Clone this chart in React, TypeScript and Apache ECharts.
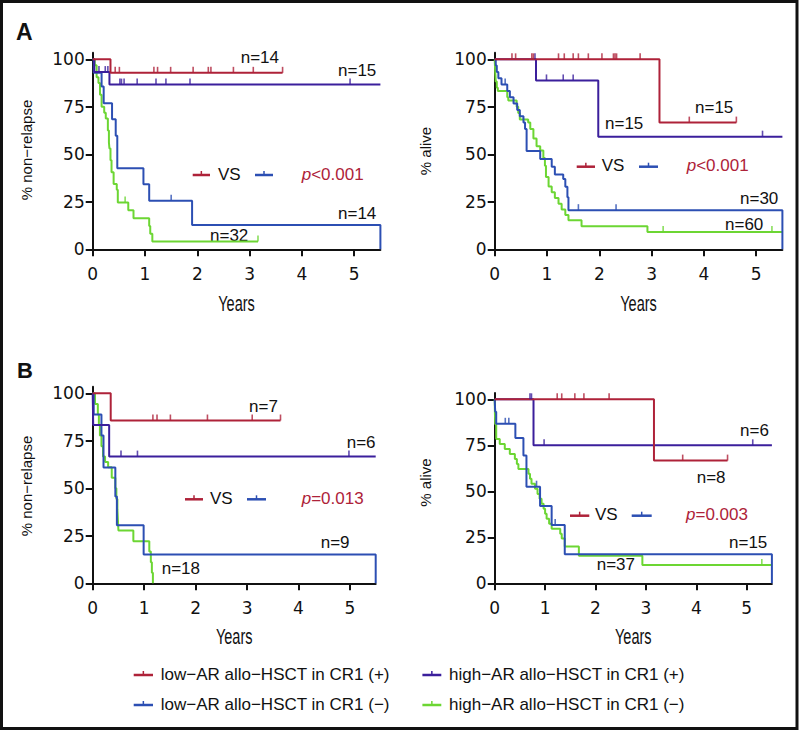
import React, { useEffect, useRef } from "react";
import * as echarts from "echarts";

// ---------- shared axis ticks ----------
const xTicks = [0, 1, 2, 3, 4, 5];
const yTicks = [0, 25, 50, 75, 100];

// ---------- colours ----------
const RED = "#AE2239";
const PURPLE = "#3B1F9C";
const BLUE = "#2C4FB3";
const GREEN = "#6CD633";

// ---------- Panel A, non-relapse ----------
const aNrLowPos = [[0, 100], [0.34, 92.9], [3.63, 92.9]];
const aNrLowPosCens = [0.43, 0.51, 1.17, 1.24, 1.49, 1.92, 2.21, 2.26, 2.69, 3.07, 3.63];
const aNrHighPos = [[0, 100], [0.03, 93.3], [0.32, 86.7], [5.5, 86.7]];
const aNrHighPosCens = [0.12, 0.24, 0.29, 0.52, 0.55, 0.6, 0.85, 1.21, 1.4, 1.86, 4.92];
const aNrLowNeg = [[0, 100], [0.02, 92.9], [0.17, 85.7], [0.21, 76.9], [0.37, 68.4], [0.44, 59.8], [0.47, 42.7], [0.97, 34.2], [1.08, 25.6], [1.9, 12.8], [5.5, 12.8], [5.5, 0]];
const aNrLowNegCens = [1.5];
const aNrHighNeg = [[0, 100], [0.04, 96.9], [0.075, 90.6], [0.11, 87.5], [0.14, 81.3], [0.17, 75], [0.22, 71.9], [0.25, 68.8], [0.29, 62.5], [0.31, 56.3], [0.32, 53.1], [0.34, 46.9], [0.36, 40.6], [0.4, 34.4], [0.46, 31.3], [0.48, 24.6], [0.68, 20.5], [0.78, 16.4], [1.08, 12.3], [1.1, 8.2], [1.14, 4.1], [3.16, 4.1]];
const aNrHighNegCens = [0.62, 3.16];

// ---------- Panel A, alive ----------
const aOsLowPos = [[0, 100], [3.15, 66.7], [4.62, 66.7]];
const aOsLowPosCens = [0.33, 0.4, 0.71, 0.74, 1.22, 1.33, 1.5, 1.6, 1.79, 2.05, 2.27, 2.3, 2.33, 2.78, 3.72, 4.62];
const aOsHighPos = [[0, 100], [0.79, 88.9], [1.98, 59.3], [5.5, 59.3]];
const aOsHighPosCens = [0.77, 0.99, 1.31, 1.5, 5.12];
const aOsLowNeg = [[0, 100], [0.02, 96.7], [0.04, 93.3], [0.07, 90], [0.13, 86.7], [0.24, 83.3], [0.29, 80], [0.36, 76.7], [0.43, 73.3], [0.48, 70], [0.55, 66.7], [0.58, 63.3], [0.61, 51.7], [0.87, 47.6], [1.09, 43.5], [1.15, 39.4], [1.31, 37], [1.35, 32.9], [1.39, 27.4], [1.41, 20.6], [5.5, 20.6], [5.5, 0]];
const aOsLowNegCens = [0.2, 1.6, 2.32];
const aOsHighNeg = [[0, 100], [0.01, 93.3], [0.02, 88.3], [0.04, 85], [0.06, 83.3], [0.24, 80], [0.26, 78.3], [0.42, 75], [0.45, 71.7], [0.48, 68.3], [0.64, 66.7], [0.68, 63.3], [0.74, 58.3], [0.8, 54.2], [0.87, 52], [0.93, 48], [0.96, 44], [0.98, 38], [1.03, 33], [1.09, 30], [1.15, 27], [1.22, 24], [1.28, 21], [1.35, 18], [1.41, 15.3], [1.66, 12.2], [2.92, 9.1], [5.5, 9.1]];
const aOsHighNegCens = [3.22, 5.3];

// ---------- Panel B, non-relapse ----------
const bNrLowPos = [[0, 100], [0.35, 85.7], [3.65, 85.7]];
const bNrLowPosCens = [1.17, 1.25, 1.51, 2.23, 3.1, 3.65];
const bNrHighPos = [[0, 100], [0.01, 83.3], [0.32, 66.7], [5.5, 66.7]];
const bNrHighPosCens = [0.55, 0.87, 4.98];
const bNrLowNeg = [[0, 100], [0.02, 88.9], [0.17, 77.8], [0.21, 61], [0.44, 45.7], [0.47, 30.5], [0.99, 15.2], [5.5, 15.2], [5.5, 0]];
const bNrLowNegCens: number[] = [];
const bNrHighNeg = [[0, 100], [0.045, 94.4], [0.1, 88.9], [0.12, 83.3], [0.14, 77.8], [0.17, 72.2], [0.2, 66.7], [0.24, 63.9], [0.3, 61.1], [0.37, 55.6], [0.44, 50], [0.46, 44.4], [0.48, 38.9], [0.49, 33.3], [0.5, 27.8], [0.79, 22.2], [1.1, 16.7], [1.13, 11.1], [1.15, 5.6], [1.17, 0]];
const bNrHighNegCens: number[] = [];

// ---------- Panel B, alive ----------
const bOsLowPos = [[0, 100], [3.16, 66.7], [4.62, 66.7]];
const bOsLowPosCens = [1.24, 1.33, 1.59, 1.77, 2.27, 3.73, 4.62];
const bOsHighPos = [[0, 100], [0.77, 75], [5.5, 75]];
const bOsHighPosCens = [0.7, 0.73, 0.98, 5.12];
const bOsLowNeg = [[0, 100], [0.01, 93.3], [0.03, 86.7], [0.41, 79], [0.57, 69.5], [0.63, 52.5], [0.9, 42], [1.13, 31.7], [1.39, 15.8], [5.5, 15.8], [5.5, 0]];
const bOsLowNegCens = [0.21, 0.28, 0.83, 1.2];
const bOsHighNeg = [[0, 100], [0.005, 91.9], [0.01, 86.5], [0.03, 78.4], [0.1, 75.7], [0.2, 73], [0.3, 70.3], [0.4, 67.6], [0.44, 64.9], [0.47, 62.2], [0.67, 59.5], [0.7, 56.8], [0.73, 54.1], [0.8, 51.4], [0.85, 48.6], [0.89, 45.9], [0.93, 43.2], [0.97, 40.5], [1.0, 37.8], [1.03, 35.1], [1.08, 32.4], [1.13, 29.7], [1.3, 27], [1.33, 24.3], [1.39, 20], [1.67, 15], [2.93, 10], [5.5, 10]];
const bOsHighNegCens = [5.3];

// ---------- texts ----------
const legendLabels = [
  "low−AR allo−HSCT in CR1 (+)",
  "high−AR allo−HSCT in CR1 (+)",
  "low−AR allo−HSCT in CR1 (−)",
  "high−AR allo−HSCT in CR1 (−)",
];
const pValues = ["<0.001", "<0.001", "=0.013", "=0.003"];
const yTitles = ["% non−relapse", "% alive", "% non−relapse", "% alive"];

const TEXT_FONT = "'Liberation Sans', Arial, sans-serif";
const TICK_FONT = "'DejaVu Sans', sans-serif";

function survAt(curve: number[][], t: number) {
  let s = curve[0][1];
  for (const [x, y] of curve) {
    if (x <= t + 1e-9) s = y;
    else break;
  }
  return s;
}

type Curve = { data: number[][]; cens: number[]; color: string };

const panels: { curves: Curve[] }[] = [
  {
    curves: [
      { data: aNrHighNeg, cens: aNrHighNegCens, color: GREEN },
      { data: aNrLowNeg, cens: aNrLowNegCens, color: BLUE },
      { data: aNrHighPos, cens: aNrHighPosCens, color: PURPLE },
      { data: aNrLowPos, cens: aNrLowPosCens, color: RED },
    ],
  },
  {
    curves: [
      { data: aOsHighNeg, cens: aOsHighNegCens, color: GREEN },
      { data: aOsLowNeg, cens: aOsLowNegCens, color: BLUE },
      { data: aOsHighPos, cens: aOsHighPosCens, color: PURPLE },
      { data: aOsLowPos, cens: aOsLowPosCens, color: RED },
    ],
  },
  {
    curves: [
      { data: bNrHighNeg, cens: bNrHighNegCens, color: GREEN },
      { data: bNrLowNeg, cens: bNrLowNegCens, color: BLUE },
      { data: bNrHighPos, cens: bNrHighPosCens, color: PURPLE },
      { data: bNrLowPos, cens: bNrLowPosCens, color: RED },
    ],
  },
  {
    curves: [
      { data: bOsHighNeg, cens: bOsHighNegCens, color: GREEN },
      { data: bOsLowNeg, cens: bOsLowNegCens, color: BLUE },
      { data: bOsHighPos, cens: bOsHighPosCens, color: PURPLE },
      { data: bOsLowPos, cens: bOsLowPosCens, color: RED },
    ],
  },
];

// layout (pixels)
const grids = [
  { left: 92.7, top: 52.7, width: 287.7, height: 196.6 },
  { left: 494.7, top: 52.7, width: 287.7, height: 196.6 },
  { left: 92.7, top: 386.7, width: 283, height: 196.6 },
  { left: 494.7, top: 392.9, width: 277.2, height: 190.4 },
];

// n= labels: [text, left x, center y]
const nLabels: [string, number, number][] = [
  ["n=14", 240.7, 57.7], ["n=15", 338, 70.5], ["n=14", 338, 213], ["n=32", 210, 235.3],
  ["n=15", 695, 107.5], ["n=15", 605, 123.8], ["n=30", 740, 198.3], ["n=60", 725, 224],
  ["n=7", 249, 406.7], ["n=6", 346.7, 442.8], ["n=9", 320.7, 542.5], ["n=18", 161.7, 568.5],
  ["n=6", 740, 430.5], ["n=8", 696.7, 477.2], ["n=15", 729, 542], ["n=37", 596.7, 564],
];

// VS annotation: [redX1, redX2, vsX, blueX1, blueX2, pX, y]
const vsLayout = [
  [192.7, 210, 218, 255, 273, 301.7, 175],
  [576.7, 595, 601.7, 639, 658, 686.7, 166.7],
  [185, 203, 210, 247, 266, 301.7, 499.3],
  [570, 589.3, 595, 631.7, 651.7, 686, 515.7],
];

function marker(x1: number, x2: number, y: number, color: string) {
  const xc = (x1 + x2) / 2;
  return [
    { type: "line", shape: { x1, y1: y, x2, y2: y }, style: { stroke: color, lineWidth: 2.5 } },
    { type: "line", shape: { x1: xc, y1: y, x2: xc, y2: y - 4 }, style: { stroke: color, lineWidth: 1.5 } },
  ];
}

function buildOption() {
  const series: any[] = [];
  panels.forEach((p, gi) => {
    p.curves.forEach((c) => {
      series.push({
        type: "line",
        xAxisIndex: gi,
        yAxisIndex: gi,
        step: "end",
        data: c.data,
        symbol: "none",
        lineStyle: { color: c.color, width: 2 },
        itemStyle: { color: c.color },
        silent: true,
      });
    });
    p.curves.forEach((c) => {
      if (!c.cens.length) return;
      series.push({
        type: "scatter",
        xAxisIndex: gi,
        yAxisIndex: gi,
        data: c.cens.map((t) => [t, survAt(c.data, t)]),
        symbol: "rect",
        symbolSize: [1.6, 6],
        symbolOffset: [0, -3],
        itemStyle: { color: c.color },
        silent: true,
        z: 3,
      });
    });
  });

  const axisLineStyle = { color: "#111", width: 2 };
  const xAxis = grids.map((_, gi) => ({
    type: "value",
    gridIndex: gi,
    min: 0,
    max: 5.5,
    axisLine: { show: true, onZero: false, lineStyle: axisLineStyle },
    axisTick: { show: true, length: 7, lineStyle: { color: "#111", width: 2 }, customValues: xTicks },
    axisLabel: { customValues: xTicks, fontSize: 17, fontFamily: TICK_FONT, color: "#111", margin: 16 },
    splitLine: { show: false },
  }));
  const yAxis = grids.map((_, gi) => ({
    type: "value",
    gridIndex: gi,
    min: 0,
    max: 103.5,
    axisLine: { show: true, onZero: false, lineStyle: axisLineStyle },
    axisTick: { show: true, length: 7, lineStyle: { color: "#111", width: 2 }, customValues: yTicks },
    axisLabel: { customValues: yTicks, fontSize: 17, fontFamily: TICK_FONT, color: "#111", margin: 8 },
    splitLine: { show: false },
  }));

  const graphic: any[] = [];
  // outer border
  graphic.push({
    type: "rect",
    shape: { x: 1.5, y: 1.5, width: 795.5, height: 727 },
    style: { fill: "none", stroke: "#111", lineWidth: 3 },
    silent: true,
  });
  // panel letters
  graphic.push({ type: "text", x: 16, y: 32, style: { text: "A", fontSize: 23, fontWeight: "bold", fontFamily: TEXT_FONT, fill: "#111", align: "left", verticalAlign: "middle" } });
  graphic.push({ type: "text", x: 17, y: 370, style: { text: "B", fontSize: 22, fontWeight: "bold", fontFamily: TEXT_FONT, fill: "#111", align: "left", verticalAlign: "middle" } });

  // axis titles
  grids.forEach((g, gi) => {
    const cx = g.left + g.width / 2;
    const yearsY = gi < 2 ? 303.5 : 636.5;
    graphic.push({
      type: "text", x: cx, y: yearsY, scaleX: 0.66,
      style: { text: "Years", fontSize: 22, fontFamily: TEXT_FONT, fill: "#111", align: "center", verticalAlign: "middle" },
    });
    const ycx = gi % 2 === 0 ? 26 : 425.7;
    const ycy = [150, 151, 486, 482.5][gi];
    graphic.push({
      type: "text", x: ycx, y: ycy, rotation: Math.PI / 2,
      style: { text: yTitles[gi], fontSize: 15, fontFamily: TEXT_FONT, fill: "#111", align: "center", verticalAlign: "middle" },
    });
  });

  // n labels
  nLabels.forEach(([t, x, y]) => {
    graphic.push({
      type: "text", x, y,
      style: { text: t, fontSize: 17, fontFamily: TEXT_FONT, fill: "#111", align: "left", verticalAlign: "middle" },
    });
  });

  // VS annotations
  vsLayout.forEach(([r1, r2, vx, b1, b2, px, y], i) => {
    graphic.push(...marker(r1, r2, y, RED));
    graphic.push(...marker(b1, b2, y, BLUE));
    graphic.push({
      type: "text", x: vx, y: y - 1,
      style: { text: "VS", fontSize: 17, fontFamily: TEXT_FONT, fill: "#111", align: "left", verticalAlign: "middle" },
    });
    graphic.push({
      type: "text", x: px, y: y - 1,
      style: {
        text: "{i|p}{n|" + pValues[i] + "}",
        fill: RED,
        align: "left",
        verticalAlign: "middle",
        rich: {
          i: { fontStyle: "italic", fontSize: 17, fontFamily: TEXT_FONT, fill: RED, color: RED },
          n: { fontSize: 17, fontFamily: TEXT_FONT, fill: RED, color: RED },
        },
      },
    });
  });

  // legend
  const legendColors = [RED, PURPLE, BLUE, GREEN];
  const legX = [[133.7, 153, 160.7], [422.4, 441.3, 449]];
  const legY = [674, 704];
  legendLabels.forEach((lab, i) => {
    const col = i % 2;
    const row = Math.floor(i / 2);
    const [m1, m2, tx] = legX[col];
    graphic.push(...marker(m1, m2, legY[row] + 1, legendColors[i]));
    graphic.push({
      type: "text", x: tx, y: legY[row],
      style: { text: lab, fontSize: 17, fontFamily: TEXT_FONT, fill: "#111", align: "left", verticalAlign: "middle" },
    });
  });

  return {
    animation: false,
    backgroundColor: "#ffffff",
    grid: grids.map((g) => ({ ...g, containLabel: false, outerBoundsMode: "none" })),
    xAxis,
    yAxis,
    series,
    graphic,
  };
}

export default function App() {
  const ref = useRef<HTMLDivElement>(null);
  useEffect(() => {
    if (!ref.current) return;
    const chart = echarts.init(ref.current, undefined, { renderer: "svg", width: 800, height: 730 });
    chart.setOption(buildOption() as any);
    return () => chart.dispose();
  }, []);
  return (
    <div
      ref={ref}
      style={{ position: "absolute", left: 0, top: 0, width: 800, height: 730, background: "#fff" }}
    />
  );
}
